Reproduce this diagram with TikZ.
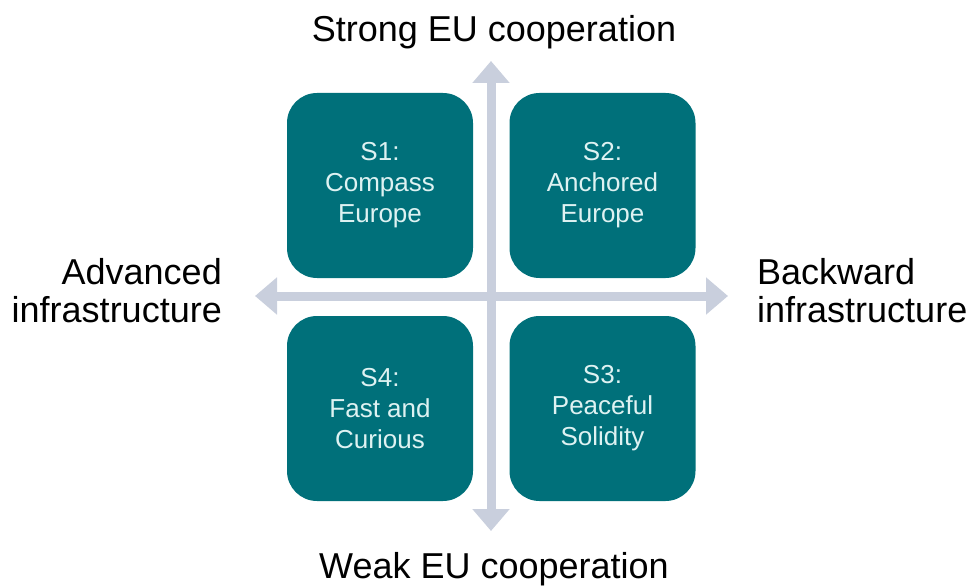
\documentclass[tikz,border=0pt]{standalone}
\usepackage{fontspec}
\setmainfont{Liberation Sans}
\usetikzlibrary{arrows.meta}
\definecolor{teal1}{RGB}{0,112,122}
\definecolor{boxtext}{RGB}{222,242,242}
\definecolor{axisc}{RGB}{201,207,221}
\tikzset{
  scen/.style={fill=teal1, rounded corners=30pt, minimum width=186pt, minimum height=185pt, inner sep=0pt,
    text=boxtext, align=center, font=\fontsize{26}{31}\selectfont},
  axisarrow/.style={draw=axisc, line width=9pt, {Triangle[width=36pt,length=22pt]}-{Triangle[width=36pt,length=22pt]}},
  axlabel/.style={font=\fontsize{36}{38}\selectfont, text=black, inner sep=0pt}
}
\begin{document}
\begin{tikzpicture}[x=1pt,y=-1pt]
\useasboundingbox (0,0) rectangle (972,588);
\coordinate (top) at (491,61);
\coordinate (bot) at (491,531);
\coordinate (lft) at (255,296);
\coordinate (rgt) at (728,296);
\draw[axisarrow] (bot) -- (top);
\draw[axisarrow] (lft) -- (rgt);
\node[scen] (s1) at (380,185.5) {S1:\\Compass\\Europe};
\node[scen] (s2) at (602.5,185.5) {S2:\\Anchored\\Europe};
\node[scen] (s4) at (380,408.5) {S4:\\Fast and\\Curious};
\node[scen] (s3) at (602.5,408.5) {S3:\\Peaceful\\Solidity};
\node[axlabel, anchor=base] (strong) at (494,42) {Strong EU cooperation};
\node[axlabel, anchor=base] (weak) at (494,578) {Weak EU cooperation};
\node[axlabel, align=right, anchor=east] (adv) at (222,291) {Advanced\\infrastructure};
\node[axlabel, align=left, anchor=west] (back) at (757,291) {Backward\\infrastructure};
\end{tikzpicture}
\end{document}
